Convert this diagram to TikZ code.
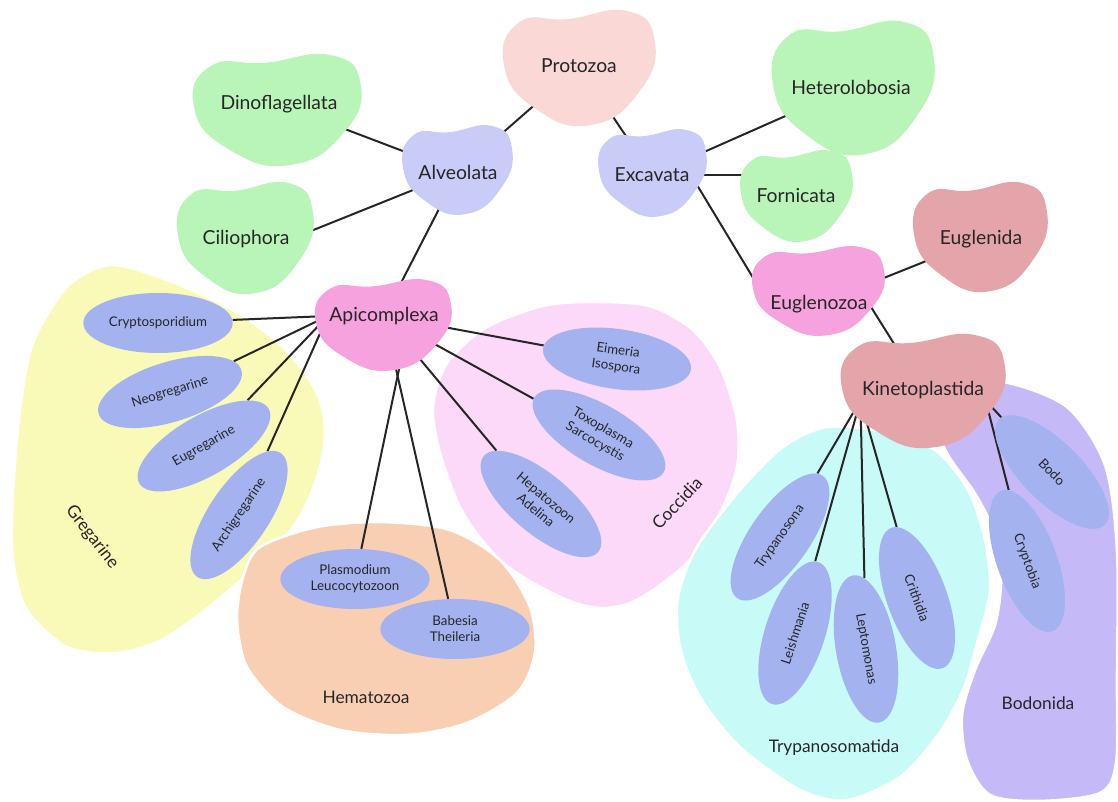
\documentclass[tikz,border=0pt]{standalone}
\usepackage{fontspec}
\setmainfont{Lato}
\usepackage{xcolor}
\usepackage{tikz}
\usetikzlibrary{shapes.geometric,calc}
\pgfdeclarelayer{grp}
\pgfdeclarelayer{lnk}
\pgfsetlayers{grp,lnk,main}

\definecolor{protoc}{HTML}{F9D8D6}
\definecolor{lavc}{HTML}{C9CCF6}
\definecolor{greenc}{HTML}{B9F5B8}
\definecolor{rosec}{HTML}{E3A4AA}
\definecolor{magc}{HTML}{F5A2DE}
\definecolor{genusc}{HTML}{A4B3EF}
\definecolor{yelc}{HTML}{F9F9B8}
\definecolor{cocc}{HTML}{FCD9F8}
\definecolor{hemc}{HTML}{F9CFB4}
\definecolor{tryc}{HTML}{C8FAF8}
\definecolor{bodc}{HTML}{C6B9F8}
\definecolor{ink}{HTML}{262626}

% blob: x, y, half width, half height, colour
\newcommand{\blob}[5]{%
  \fill[#5,shift={(#1,#2)},xscale=#3,yscale=#4] plot[smooth cycle,tension=0.85] coordinates
    {(-1,-0.05) (-0.8,-0.8) (-0.15,-0.86) (0.62,-1) (0.98,-0.5)
     (0.8,0.38) (0.15,1) (-0.6,0.7)};}

\begin{document}
\begin{tikzpicture}[x=0.75pt,y=-0.75pt,
    every node/.style={text=ink},
    taxon/.style={font=\fontsize{14.5}{17}\selectfont,inner sep=1pt},
    genus/.style={ellipse,fill=genusc,minimum width=112pt,minimum height=45pt,
      inner sep=0pt,align=center,font=\fontsize{10}{12}\selectfont},
    clade/.style={font=\fontsize{13}{15}\selectfont},
    groupbg/.style={draw=white,line width=2pt},
    link/.style={line width=1.5pt,ink}]

\useasboundingbox (0,0) rectangle (1118,802);

% group backgrounds
\begin{pgfonlayer}{grp}
\filldraw[groupbg,fill=yelc] plot[smooth cycle] coordinates {(110,265) (167,280) (233,310) (283,347)
  (317,393) (325,433) (317,477) (293,527) (233,587) (167,637) (117,653) (67,647) (27,610)
  (13,560) (13,493) (20,410) (33,343) (67,287)};
\filldraw[groupbg,fill=cocc] plot[smooth cycle] coordinates {(607,302) (653,307) (693,330) (720,367)
  (737,420) (737,467) (720,513) (687,563) (637,600) (600,608) (560,597) (503,563) (463,513)
  (440,453) (433,407) (447,363) (487,327) (547,305)};
\filldraw[groupbg,fill=hemc] plot[smooth cycle] coordinates {(260,547) (317,527) (383,522) (450,530)
  (500,560) (530,607) (535,653) (517,693) (467,723) (407,735) (340,730) (283,707) (247,667)
  (237,620) (243,577)};
\filldraw[groupbg,fill=tryc] plot[smooth cycle] coordinates {(827,427) (885,432) (935,450) (968,490)
  (985,540) (990,590) (978,640) (963,690) (938,735) (900,777) (847,800) (800,790) (740,747)
  (700,697) (680,647) (678,597) (697,547) (740,490) (783,447)};
\filldraw[groupbg,fill=bodc] plot[smooth cycle] coordinates {(1003,382) (1067,407) (1105,465)
  (1117,550) (1117,680) (1116,763) (1100,793) (1040,801) (990,795) (967,760) (962,715)
  (975,670) (995,625) (1001,580) (995,535) (976,495) (948,455) (935,420) (955,390)};
\end{pgfonlayer}

% blobs
\blob{580}{68}{76}{57}{protoc}
\blob{458}{170}{55}{44}{lavc}
\blob{653}{173}{54}{43}{lavc}
\blob{278}{110}{84}{55}{greenc}
\blob{246}{238}{68}{55}{greenc}
\blob{854}{88}{81}{66}{greenc}
\blob{797}{196}{56}{45}{greenc}
\blob{981}{237}{67}{54}{rosec}
\blob{819}{291}{66}{44}{magc}
\blob{384}{325}{68}{45}{magc}
\blob{924}{391}{82}{56}{rosec}

\node[taxon] (pro) at (579,66) {Protozoa};
\node[taxon] (alv) at (458,172) {Alveolata};
\node[taxon] (exc) at (652,175) {Excavata};
\node[taxon] (dino) at (279,104) {Dinoflagellata};
\node[taxon] (cil) at (246,239) {Ciliophora};
\node[taxon] (het) at (851,87) {Heterolobosia};
\node[taxon] (forn) at (796,196) {Fornicata};
\node[taxon] (eugl) at (981,239) {Euglenida};
\node[taxon] (eglz) at (819,304) {Euglenozoa};
\node[taxon] (apx) at (384,316) {Apicomplexa};
\node[taxon] (kin) at (923,390) {Kinetoplastida};

% genera
\node[genus] (crypto) at (158,323) {Cryptosporidium};
\node[genus,rotate=17] (neo) at (170,392) {Neogregarine};
\node[genus,rotate=30] (eug) at (204,446) {Eugregarine};
\node[genus,rotate=56] (archi) at (239,515) {Archigregarine};
\node[genus,rotate=-8] (eim) at (617,359) {Eimeria\\Isospora};
\node[genus,rotate=-30] (toxo) at (599,435) {Toxoplasma\\Sarcocystis};
\node[genus,rotate=-40] (hepa) at (541,504) {Hepatozoon\\Adelina};
\node[genus] (plas) at (355,579) {Plasmodium\\Leucocytozoon};
\node[genus] (babe) at (455,629) {Babesia\\Theileria};
\node[genus,rotate=55] (tryp) at (780,537) {Trypanosona};
\node[genus,rotate=72] (leish) at (795,633) {Leishmania};
\node[genus,rotate=-80] (lepto) at (866,649) {Leptomonas};
\node[genus,rotate=-70] (crith) at (917,598) {Crithidia};
\node[genus,rotate=-45] (bodo) at (1052,472) {Bodo};
\node[genus,rotate=-70] (cryb) at (1027,561) {Cryptobia};

% clade labels
\node[clade,rotate=-52] (greg) at (92,537) {Gregarine};
\node[clade,rotate=47] (cocl) at (677,503) {Coccidia};
\node[clade] (hema) at (366,697) {Hematozoa};
\node[clade] (trys) at (834,748) {Trypanosomatida};
\node[clade] (bodn) at (1038,703) {Bodonida};

\begin{pgfonlayer}{lnk}
\draw[link] (pro) -- (alv);
\draw[link] (pro) -- (exc);
\draw[link] (alv) -- (dino);
\draw[link] (cil.east) -- (alv);
\draw[link] (alv) -- (apx);
\draw[link] (exc) -- (het);
\draw[link] (exc.east) -- (exc.east -| forn.west);
\draw[link] (exc.east) -- (eglz.west);
\draw[link] (eglz) -- (eugl);
\draw[link] (eglz.east) -- (kin);
\foreach \g in {crypto,neo,eug,archi}
  \draw[link] (apx.west) -- (\g);
\draw[link] ([xshift=18pt]apx.south) -- (plas);
\foreach \g in {babe,hepa,toxo,eim}
  \draw[link] (apx) -- (\g);
\foreach \g in {tryp,leish,lepto,crith}
  \draw[link] (kin.south west) -- (\g);
\draw[link] (kin.south east) -- (bodo);
\draw[link] (kin.south east) -- (cryb);
\end{pgfonlayer}
\end{tikzpicture}
\end{document}
